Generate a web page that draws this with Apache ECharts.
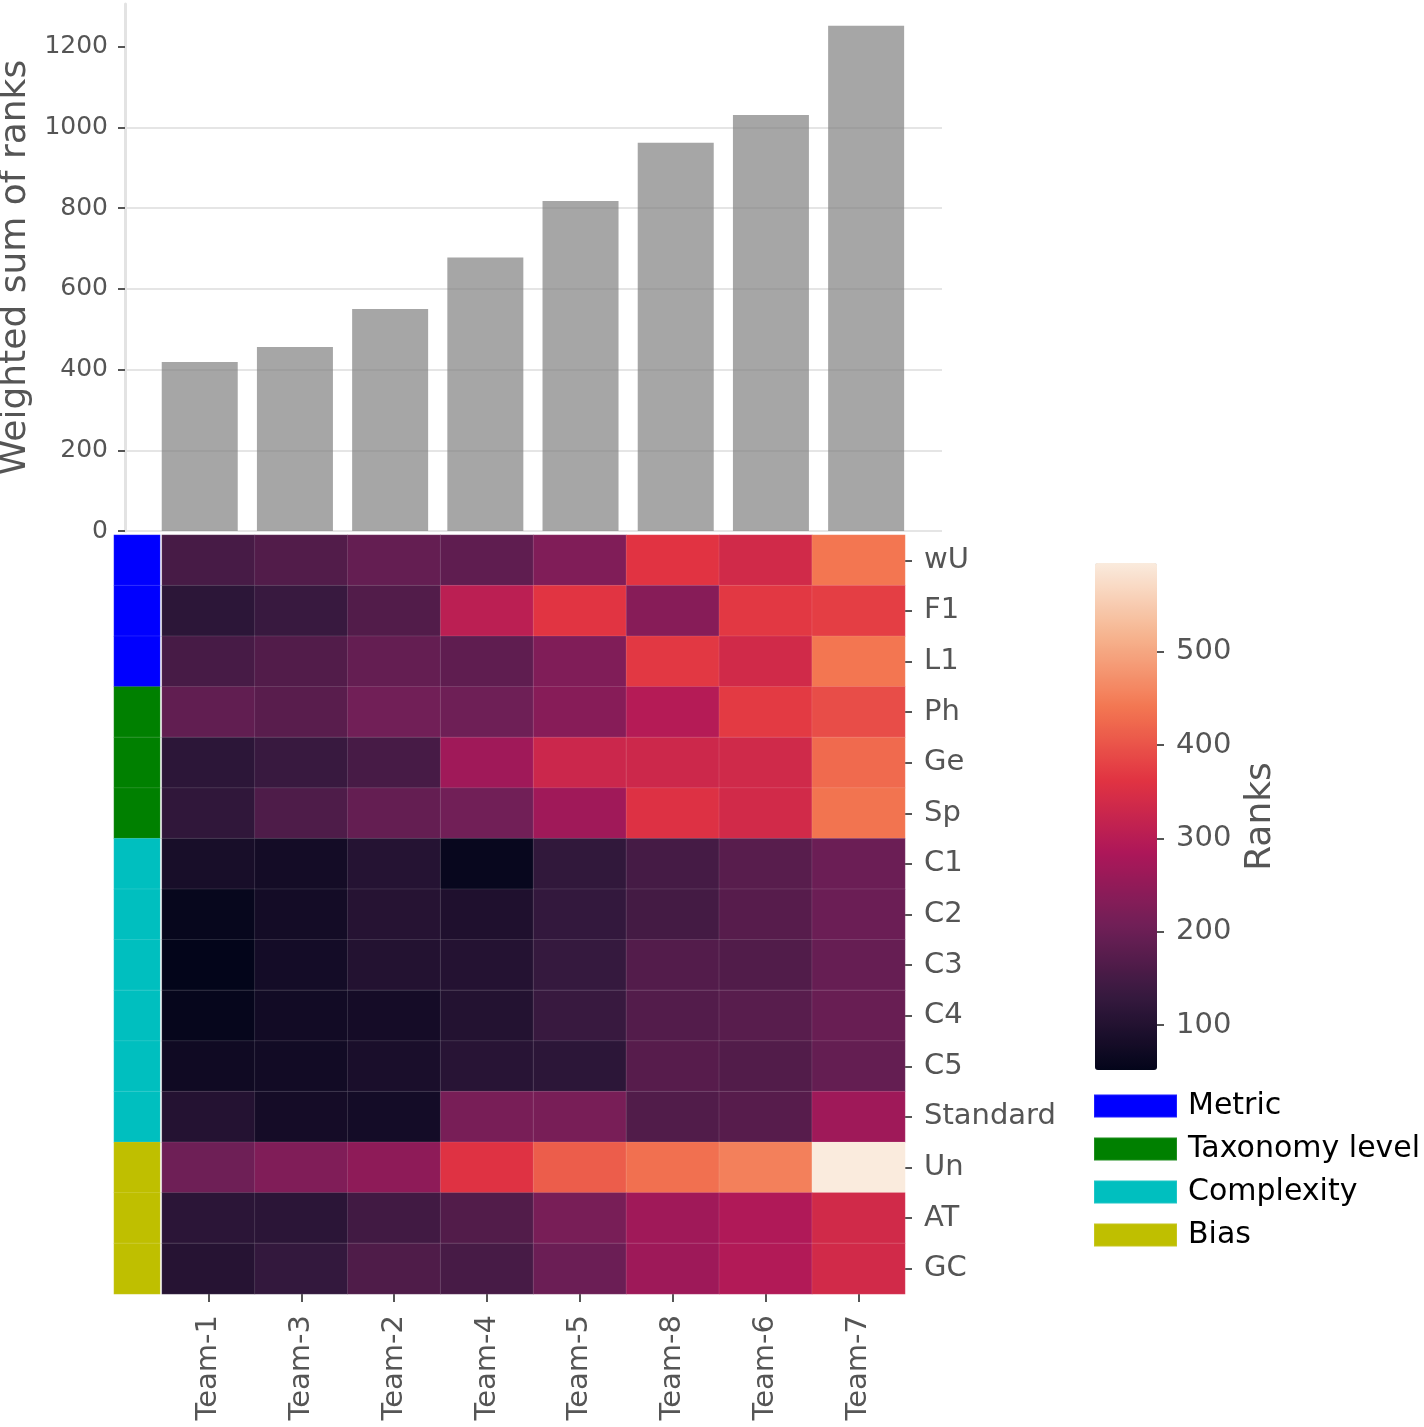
<!DOCTYPE html>
<html><head><meta charset="utf-8">
<script src="https://cdn.jsdelivr.net/npm/echarts@6/dist/echarts.min.js"></script>
<style>html,body{margin:0;padding:0;background:#fff}#c{width:1424px;height:1427px}</style>
</head><body><div id="c"></div>
<script>
// ---- data ----
const teams = ['Team-1','Team-3','Team-2','Team-4','Team-5','Team-8','Team-6','Team-7'];
const barValues = [419, 456, 550, 678, 818, 962, 1031, 1252];
const barTicks = [0, 200, 400, 600, 800, 1000, 1200];
const rows = ['wU','F1','L1','Ph','Ge','Sp','C1','C2','C3','C4','C5','Standard','Un','AT','GC'];
const groups = ['Metric','Taxonomy level','Complexity','Bias'];
const rowGroup = [0,0,0,1,1,1,2,2,2,2,2,2,3,3,3];
const rankTicks = [100, 200, 300, 400, 500];
const rankMin = 52, rankMax = 595;

const rWU  = [153,168,191,185,227,362,337,440];
const rF1  = [116,133,168,306,364,237,368,375];
const rL1  = [153,168,191,185,227,368,337,440];
const rPh  = [188,177,208,205,237,296,370,392];
const rGe  = [116,133,153,268,330,331,336,426];
const rSp  = [122,163,191,208,268,357,338,437];
const rC1  = [85,78,105,60,124,150,175,200];
const rC2  = [58,78,106,96,127,149,174,200];
const rC3  = [52,79,101,103,130,169,166,194];
const rC4  = [57,75,80,102,133,169,175,196];
const rC5  = [72,76,88,110,116,174,168,191];
const rStd = [103,80,79,217,217,166,174,267];
const rUn  = [205,227,245,360,411,433,452,595];
const rAT  = [114,114,146,168,217,268,289,337];
const rGC  = [106,127,164,153,200,266,292,338];
const ranks = [rWU,rF1,rL1,rPh,rGe,rSp,rC1,rC2,rC3,rC4,rC5,rStd,rUn,rAT,rGC];

// ---- styles ----
const groupColors = ['#0000ff','#008000','#00bfbf','#bfbf00'];
const rocket = ['#03051a','#35193e','#701f57','#ad1759','#e13342','#f37651','#f6b48f','#faebdd'];
const FONT = 'DejaVu Sans';
const TXT = '#555555';

const heatData = [];
ranks.forEach((row, r) => row.forEach((v, c) => heatData.push([c, r, v])));

const stripSeries = groups.map((g, gi) => ({
  type: 'heatmap', name: g, xAxisIndex: 2, yAxisIndex: 2,
  data: rows.map((_, r) => r).filter(r => rowGroup[r] === gi).map(r => [0, r, 1]),
  itemStyle: { color: groupColors[gi], borderColor: 'rgba(255,255,255,0.12)', borderWidth: 1 },
  emphasis: { disabled: true }
}));

const gridBase = { containLabel: false, outerBoundsMode: 'none' };
const plain = v => String(v);

const chart = echarts.init(document.getElementById('c'));
chart.setOption({
  animation: false,
  backgroundColor: '#ffffff',
  textStyle: { fontFamily: FONT },
  grid: [
    Object.assign({ left: 125, top: 4, width: 817, height: 527 }, gridBase),
    Object.assign({ left: 162, top: 535, width: 743, height: 759 }, gridBase),
    Object.assign({ left: 114, top: 535, width: 46, height: 759 }, gridBase),
    Object.assign({ left: 1095, top: 563, width: 62, height: 507 }, gridBase)
  ],
  xAxis: [
    { gridIndex: 0, type: 'value', min: -0.785, max: 7.797, show: false },
    { gridIndex: 1, type: 'category', data: teams, position: 'bottom',
      axisLine: { show: false },
      axisTick: { show: true, length: 8, alignWithLabel: true, lineStyle: { color: TXT, width: 2 } },
      axisLabel: { rotate: 90, fontSize: 29, color: TXT, margin: 21, fontFamily: FONT },
      splitLine: { show: false } },
    { gridIndex: 2, type: 'category', data: ['g'], show: false },
    { gridIndex: 3, type: 'category', data: ['c'], show: false }
  ],
  yAxis: [
    { gridIndex: 0, type: 'value', min: 0, max: 1306, interval: 200, position: 'left',
      axisLine: { show: true, onZero: false, lineStyle: { color: '#e3e3e3', width: 3 } },
      axisTick: { show: true, length: 7, lineStyle: { color: TXT, width: 2 }, customValues: barTicks },
      axisLabel: { fontSize: 25, color: TXT, margin: 17, customValues: barTicks, formatter: plain, padding: [5, 0, 0, 0] },
      splitLine: { show: true, showMaxLine: false, lineStyle: { color: '#e5e5e5', width: 2 } },
      name: 'Weighted sum of ranks', nameLocation: 'middle', nameGap: 86, nameRotate: 90,
      nameTextStyle: { fontSize: 36, color: TXT, fontFamily: FONT } },
    { gridIndex: 1, type: 'category', data: rows, inverse: true, position: 'right',
      axisLine: { show: false },
      axisTick: { show: true, length: 7, alignWithLabel: true, lineStyle: { color: TXT, width: 2 } },
      axisLabel: { fontSize: 29, color: TXT, margin: 19, padding: [5, 0, 0, 0] },
      splitLine: { show: false } },
    { gridIndex: 2, type: 'category', data: rows, inverse: true, show: false },
    { gridIndex: 3, type: 'value', min: rankMin, max: rankMax, position: 'right',
      axisLine: { show: false },
      axisTick: { show: true, length: 7, lineStyle: { color: TXT, width: 2 }, customValues: rankTicks },
      axisLabel: { fontSize: 29, color: TXT, margin: 19, customValues: rankTicks, formatter: plain, padding: [5, 0, 0, 0] },
      splitLine: { show: false },
      name: 'Ranks', nameLocation: 'middle', nameGap: 86, nameRotate: 90,
      nameTextStyle: { fontSize: 36, color: TXT, fontFamily: FONT } }
  ],
  visualMap: {
    type: 'continuous', seriesIndex: 1, min: rankMin, max: rankMax,
    left: 1095, top: 563, itemWidth: 62, itemHeight: 507, padding: 0,
    calculable: false, hoverLink: false, text: null, show: true,
    inRange: { color: rocket }
  },
  legend: {
    data: groups, orient: 'vertical', left: 1093, top: 1091, padding: 0,
    itemWidth: 83, itemHeight: 23, itemGap: 13, icon: 'rect', selectedMode: false,
    textStyle: { fontSize: 30, color: '#000000', fontFamily: FONT, padding: [0, 0, 0, 6] }
  },
  series: [
    { type: 'bar', name: 'sum', xAxisIndex: 0, yAxisIndex: 0,
      data: barValues.map((v, i) => [i, v]), barWidth: 76,
      itemStyle: { color: 'rgba(128,128,128,0.7)' }, emphasis: { disabled: true } },
    { type: 'heatmap', name: 'ranks', xAxisIndex: 1, yAxisIndex: 1, data: heatData,
      itemStyle: { borderColor: 'rgba(255,255,255,0.12)', borderWidth: 1 },
      emphasis: { disabled: true } }
  ].concat(stripSeries)
});
</script>
</body></html>
